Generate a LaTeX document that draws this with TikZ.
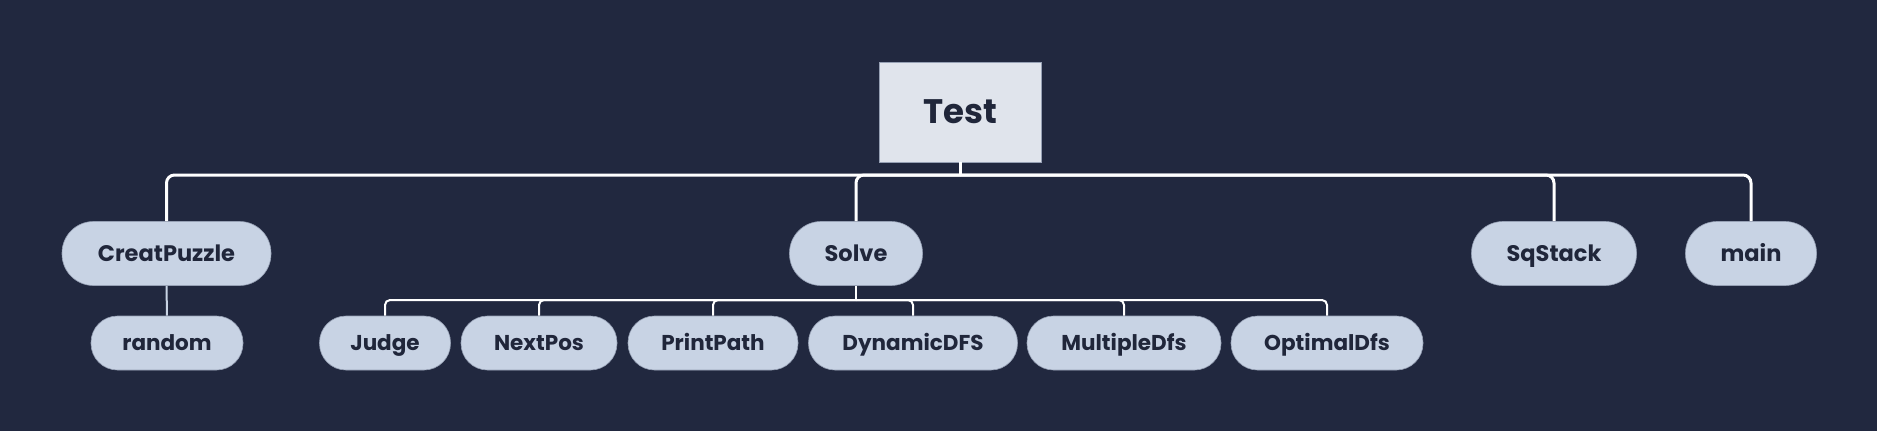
\documentclass[tikz,border=0pt]{standalone}
\usepackage{fontspec}
\setmainfont{Poppins}
\definecolor{bgc}{RGB}{33,40,63}
\definecolor{nodefill}{RGB}{200,211,228}
\definecolor{rootfill}{RGB}{224,228,236}
\definecolor{txt}{RGB}{32,38,58}
\definecolor{edge}{RGB}{150,160,180}
\tikzset{
  lvone/.style={fill=nodefill, draw=edge, line width=0.6pt, rounded corners=31.5pt, minimum height=64pt, inner sep=0pt, text height=15.75pt, text depth=0pt, text=txt, font=\bfseries\fontsize{22.5}{26}\selectfont},
  lvtwo/.style={fill=nodefill, draw=edge, line width=0.6pt, rounded corners=26.5pt, minimum height=54pt, inner sep=0pt, text height=15pt, text depth=0pt, text=txt, font=\bfseries\fontsize{21.5}{25}\selectfont},
  rootbox/.style={fill=rootfill, draw=edge, line width=0.6pt, minimum width=162pt, minimum height=100pt, inner sep=0pt, text height=23.8pt, text depth=0pt, text=txt, font=\bfseries\fontsize{34}{40}\selectfont},
  wire/.style={draw=white, line width=3pt, rounded corners=8pt},
  wiretwo/.style={draw=white, line width=2pt, rounded corners=5pt},
  wirethin/.style={draw=nodefill, line width=2pt}
}
\begin{document}
\begin{tikzpicture}[x=1pt, y=-1pt]
\fill[bgc] (0,0) rectangle (1877,431);
\useasboundingbox (0,0) rectangle (1877,431);
% root
\node[rootbox] (test) at (960,112) {Test};
% level one
\node[lvone, minimum width=209pt] (creat) at (166.5,253.5) {CreatPuzzle};
\node[lvone, minimum width=133pt] (solve) at (856,253.5) {Solve};
\node[lvone, minimum width=165pt] (sqstack) at (1554,253.5) {SqStack};
\node[lvone, minimum width=131pt] (main) at (1751,253.5) {main};
% level two
\node[lvtwo, minimum width=152pt] (random) at (167,343) {random};
\node[lvtwo, minimum width=131pt] (judge) at (385,343) {Judge};
\node[lvtwo, minimum width=156pt] (nextpos) at (539,343) {NextPos};
\node[lvtwo, minimum width=170pt] (printpath) at (713,343) {PrintPath};
\node[lvtwo, minimum width=209pt] (dyn) at (913,343) {DynamicDFS};
\node[lvtwo, minimum width=194pt] (multi) at (1124,343) {MultipleDfs};
\node[lvtwo, minimum width=192pt] (opt) at (1327,343) {OptimalDfs};
% buses
\coordinate (busone) at (test.south |- 0,175);
\coordinate (bustwo) at (solve.south |- 0,300);
% connectors from Test
\draw[wire] (test.south) -- (busone);
\foreach \c in {creat,solve,sqstack,main}{
  \draw[wire] (busone) -| (\c.north);
}
% connectors from Solve
\draw[wiretwo] (solve.south) -- (bustwo);
\foreach \c in {judge,nextpos,printpath,dyn,multi,opt}{
  \draw[wiretwo] (bustwo) -| (\c.north);
}
% CreatPuzzle to random
\draw[wirethin] (creat.south) -- (random.north);
\end{tikzpicture}
\end{document}
